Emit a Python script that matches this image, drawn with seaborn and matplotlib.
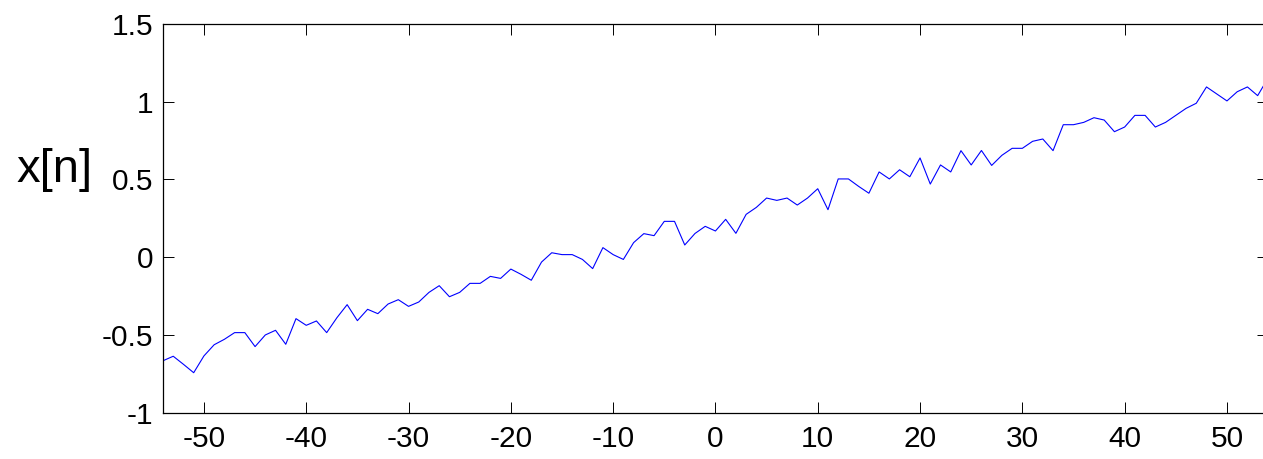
import numpy as np
import pandas as pd
import matplotlib
matplotlib.use("Agg")
import matplotlib.pyplot as plt
import seaborn as sns

# Sample indices and signal values
n = list(range(-54, 55))
x_vals = [
    -0.667, -0.638, -0.690, -0.744, -0.636, -0.564, -0.529, -0.486, -0.486, -0.576,  # -54..-45
    -0.501, -0.471, -0.561, -0.396, -0.439, -0.411, -0.486, -0.390, -0.306, -0.409,  # -44..-35
    -0.336, -0.364, -0.302, -0.274, -0.317, -0.289, -0.227, -0.184, -0.255, -0.227,  # -34..-25
    -0.169, -0.169, -0.124, -0.137, -0.077, -0.111, -0.149, -0.032, 0.028, 0.016,    # -24..-15
    0.016, -0.015, -0.074, 0.061, 0.016, -0.015, 0.093, 0.151, 0.138, 0.230,         # -14..-5
    0.230, 0.078, 0.152, 0.198, 0.168, 0.243, 0.153, 0.275, 0.320, 0.380,            # -4..5
    0.365, 0.380, 0.335, 0.380, 0.440, 0.305, 0.503, 0.503, 0.455, 0.411,            # 6..15
    0.548, 0.503, 0.562, 0.517, 0.638, 0.470, 0.593, 0.548, 0.685, 0.593,            # 16..25
    0.686, 0.590, 0.655, 0.700, 0.700, 0.745, 0.760, 0.685, 0.852, 0.852,            # 26..35
    0.867, 0.897, 0.882, 0.807, 0.837, 0.912, 0.912, 0.837, 0.867, 0.912,            # 36..45
    0.957, 0.990, 1.095, 1.050, 1.005, 1.064, 1.095, 1.039, 1.150,                   # 46..54
]
x_ticks = [-50, -40, -30, -20, -10, 0, 10, 20, 30, 40, 50]
y_ticks = [-1, -0.5, 0, 0.5, 1, 1.5]
y_tick_labels = ["-1", "-0.5", "0", "0.5", "1", "1.5"]

sns.set_style("ticks")
plt.rcParams["font.family"] = ["Liberation Sans", "DejaVu Sans"]
plt.rcParams["text.color"] = "black"
plt.rcParams["axes.labelcolor"] = "black"
plt.rcParams["xtick.color"] = "black"
plt.rcParams["ytick.color"] = "black"

df = pd.DataFrame({"n": n, "x": x_vals})

W, H = 1263, 459
fig = plt.figure(figsize=(W / 100, H / 100), dpi=100)
left = 163 / W
bottom = (H - 412.5) / H
top = (H - 24) / H
right_px = 715.3 + 54 * 10.233
ax = fig.add_axes([left, bottom, (right_px - 163) / W, top - bottom])

sns.lineplot(data=df, x="n", y="x", ax=ax, color="#0000ff", linewidth=0.8)

ax.set_xlim(-54, 54)
ax.set_ylim(-1, 1.5)
ax.set_xticks(x_ticks)
ax.set_xticklabels([str(t) for t in x_ticks])
ax.set_yticks(y_ticks)
ax.set_yticklabels(y_tick_labels)

for s in ax.spines.values():
    s.set_visible(True)
    s.set_color("black")
    s.set_linewidth(0.9)

ax.tick_params(axis="both", direction="in", length=8, width=0.7, color="black",
               labelcolor="black", labelsize=21.5, top=True, right=True)
ax.tick_params(axis="x", pad=9)
ax.tick_params(axis="y", pad=7)

ax.set_xlabel("")
ax.set_ylabel("x[n]", rotation=0, fontsize=34, color="black")
ax.yaxis.set_label_coords((55 - 163) / (right_px - 163), (412.5 - 170) / (412.5 - 24))
ax.yaxis.label.set_verticalalignment("center")
ax.yaxis.label.set_horizontalalignment("center")

fig.savefig("out.png", dpi=100)
